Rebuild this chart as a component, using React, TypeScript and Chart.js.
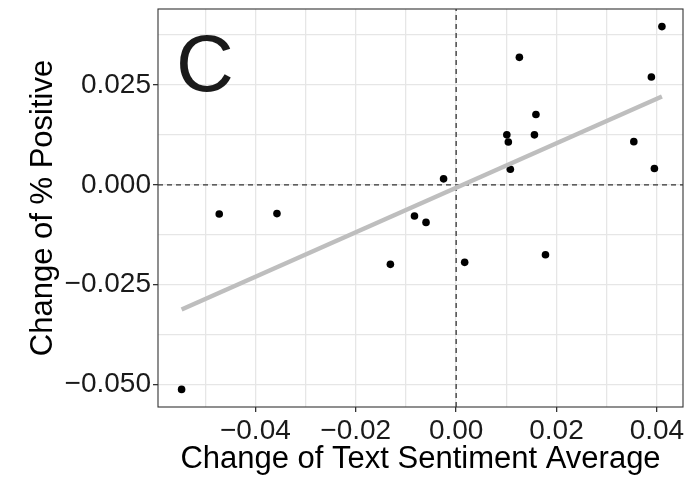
import React, { useEffect, useRef } from 'react';
import { Chart, registerables } from 'chart.js';

Chart.register(...registerables);

// ---- data ----
const sentimentChange = [-0.0547, -0.0472, -0.0357, -0.0131, -0.0083, -0.006, -0.0025, 0.0017, 0.0101, 0.0104, 0.0108, 0.0126, 0.0156, 0.0159, 0.0178, 0.0354, 0.0389, 0.0395, 0.041];
const positiveChange = [-0.0512, -0.0073, -0.0072, -0.0199, -0.0078, -0.0094, 0.0015, -0.0194, 0.0125, 0.0107, 0.0039, 0.0319, 0.0125, 0.0176, -0.0175, 0.0108, 0.027, 0.0041, 0.0396];

const fitX = [-0.0547, 0.041];
const fitY = [-0.0312, 0.0221];

const xRange = [-0.0594, 0.0452];
const yRange = [-0.0556, 0.044];

const xGrid = [-0.05, -0.04, -0.03, -0.02, -0.01, 0, 0.01, 0.02, 0.03, 0.04];
const xMajor = [-0.04, -0.02, 0, 0.02, 0.04];
const xLabels = ['\u22120.04', '\u22120.02', '0.00', '0.02', '0.04'];

const yGrid = [-0.05, -0.0375, -0.025, -0.0125, 0, 0.0125, 0.025, 0.0375];
const yMajor = [-0.05, -0.025, 0, 0.025];
const yLabels = ['\u22120.050', '\u22120.025', '0.000', '0.025'];

const xTitle = 'Change of Text Sentiment Average';
const yTitle = 'Change of % Positive';
const panelLabel = 'C';

const FONT = '"Liberation Sans", Arial, sans-serif';

const findIdx = (arr: number[], v: number) => arr.findIndex((a) => Math.abs(a - v) < 1e-9);

const panelPlugin = {
  id: 'panelDecor',
  afterDatasetsDraw(chart: any) {
    const { ctx, chartArea } = chart;
    ctx.save();
    ctx.strokeStyle = '#333333';
    ctx.lineWidth = 1.1;
    ctx.strokeRect(chartArea.left, chartArea.top, chartArea.right - chartArea.left, chartArea.bottom - chartArea.top);
    ctx.fillStyle = '#1a1a1a';
    ctx.font = `80px ${FONT}`;
    ctx.textAlign = 'left';
    ctx.textBaseline = 'alphabetic';
    ctx.fillText(panelLabel, chartArea.left + 18, chartArea.top + 82);
    ctx.restore();
  },
};

export default function App() {
  const ref = useRef<HTMLCanvasElement | null>(null);

  useEffect(() => {
    if (!ref.current) return;
    const points = sentimentChange.map((x, i) => ({ x, y: positiveChange[i] }));
    const fit = fitX.map((x, i) => ({ x, y: fitY[i] }));
    const chart = new Chart(ref.current, {
      type: 'scatter',
      data: {
        datasets: [
          {
            data: points,
            backgroundColor: '#000000',
            borderWidth: 0,
            pointRadius: 3.8,
            order: 2,
          },
          {
            data: fit,
            showLine: true,
            borderColor: '#bebebe',
            borderWidth: 4.5,
            pointRadius: 0,
            order: 1,
          },
          {
            data: [{ x: 0, y: yRange[0] }, { x: 0, y: yRange[1] }],
            showLine: true,
            borderColor: '#333333',
            borderWidth: 1.3,
            borderDash: [5, 4],
            pointRadius: 0,
            order: 3,
          },
          {
            data: [{ x: xRange[0], y: 0 }, { x: xRange[1], y: 0 }],
            showLine: true,
            borderColor: '#333333',
            borderWidth: 1.3,
            borderDash: [5, 4],
            pointRadius: 0,
            order: 3,
          },
        ] as any,
      },
      options: {
        animation: false,
        responsive: false,
        layout: { padding: { left: 25, right: 6, top: 9, bottom: 0 } },
        plugins: { legend: { display: false }, tooltip: { enabled: false } },
        scales: {
          x: {
            type: 'linear',
            min: xRange[0],
            max: xRange[1],
            afterBuildTicks: (s: any) => {
              s.ticks = xGrid.map((v) => ({ value: v }));
            },
            afterFit: (s: any) => {
              s.height = 71;
              s.paddingLeft = 0;
              s.paddingRight = 0;
            },
            grid: {
              color: '#e6e6e6',
              lineWidth: 1.3,
              tickLength: 5,
              tickColor: (c: any) => (findIdx(xMajor, c.tick?.value) >= 0 ? '#333333' : 'rgba(0,0,0,0)'),
            },
            border: { display: false },
            ticks: {
              autoSkip: false,
              maxRotation: 0,
              padding: 2,
              color: '#1a1a1a',
              font: { family: FONT, size: 28 },
              callback: (v: any) => {
                const i = findIdx(xMajor, Number(v));
                return i >= 0 ? xLabels[i] : '';
              },
            },
            title: {
              display: true,
              text: xTitle,
              color: '#000000',
              font: { family: FONT, size: 31 },
              padding: 0,
            },
          },
          y: {
            type: 'linear',
            min: yRange[0],
            max: yRange[1],
            afterBuildTicks: (s: any) => {
              s.ticks = yGrid.map((v) => ({ value: v }));
            },
            afterFit: (s: any) => {
              s.width = 158 - 25;
              s.paddingTop = 0;
              s.paddingBottom = 0;
            },
            grid: {
              color: '#e6e6e6',
              lineWidth: 1.3,
              tickLength: 5,
              tickColor: (c: any) => (findIdx(yMajor, c.tick?.value) >= 0 ? '#333333' : 'rgba(0,0,0,0)'),
            },
            border: { display: false },
            ticks: {
              autoSkip: false,
              padding: 2,
              color: '#1a1a1a',
              font: { family: FONT, size: 28 },
              callback: (v: any) => {
                const i = findIdx(yMajor, Number(v));
                return i >= 0 ? yLabels[i] : '';
              },
            },
            title: {
              display: true,
              text: yTitle,
              color: '#000000',
              font: { family: FONT, size: 31 },
              padding: 0,
            },
          },
        },
      } as any,
      plugins: [panelPlugin],
    });
    return () => chart.destroy();
  }, []);

  return (
    <div style={{ position: 'fixed', left: 0, top: 0, width: 689, height: 478, background: '#ffffff' }}>
      <canvas ref={ref} width={689} height={478} style={{ display: 'block', width: 689, height: 478 }} />
    </div>
  );
}
